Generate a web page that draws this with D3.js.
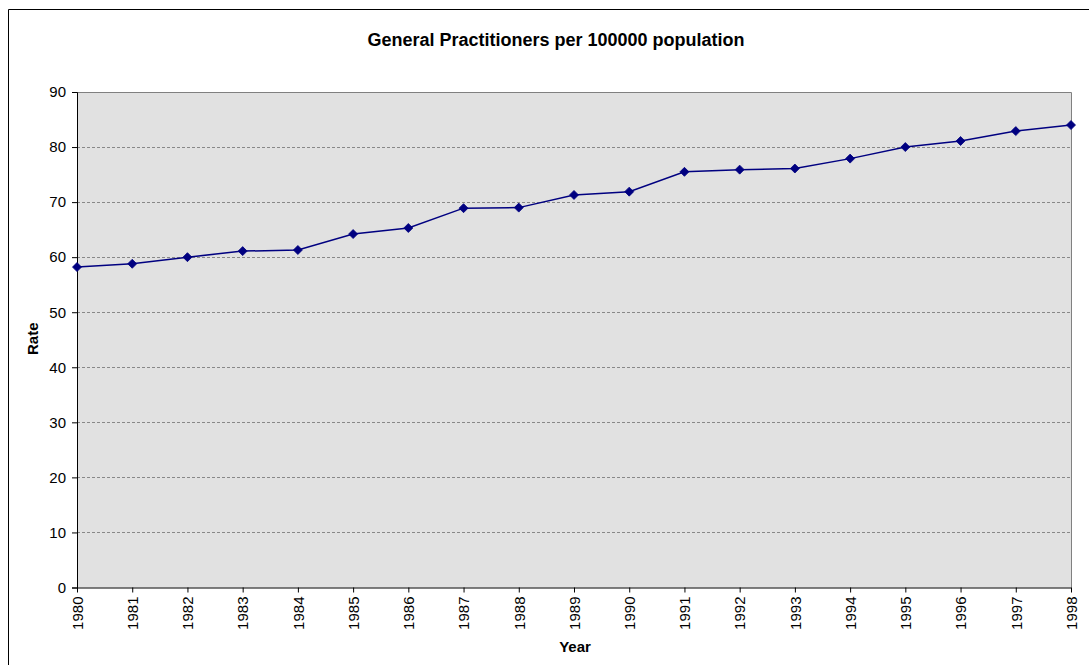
<!DOCTYPE html>
<html>
<head>
<meta charset="utf-8">
<script src="https://cdn.jsdelivr.net/npm/d3@7"></script>
<style>
  html, body { margin: 0; padding: 0; background: #fff; }
  svg { display: block; font-family: Arial, "Liberation Sans", sans-serif; }
</style>
</head>
<body>
<svg id="chart" width="1089" height="665"></svg>
<script>
// General practitioners per 100 000 population, 1980–1998
const years = [1980, 1981, 1982, 1983, 1984, 1985, 1986, 1987, 1988, 1989,
               1990, 1991, 1992, 1993, 1994, 1995, 1996, 1997, 1998];
const rates = [58.2, 58.8, 60.0, 61.1, 61.3, 64.2, 65.3, 68.9, 69.0, 71.3,
               71.9, 75.5, 75.9, 76.1, 77.9, 80.0, 81.1, 82.9, 84.0];
const yTicks = [0, 10, 20, 30, 40, 50, 60, 70, 80, 90];

const svg = d3.select("#chart");
const plot = { left: 77, right: 1071, top: 92, bottom: 587.5 };
const FONT = "Arial, 'Liberation Sans', sans-serif";

// outer chart frame (open at right and bottom edges of the window)
svg.append("path")
  .attr("d", "M8.5,665 L8.5,9.5 L1089,9.5")
  .attr("fill", "none").attr("stroke", "#000").attr("stroke-width", 1);

const x = d3.scalePoint().domain(years).range([plot.left, plot.right]);
const y = d3.scaleLinear().domain([0, 90]).range([plot.bottom, plot.top]);

// plot background
svg.append("rect")
  .attr("x", plot.left).attr("y", plot.top)
  .attr("width", plot.right - plot.left).attr("height", plot.bottom - plot.top)
  .attr("fill", "#e1e1e1");

// horizontal gridlines
svg.append("g").selectAll("line")
  .data(yTicks.filter(d => d > 0 && d < 90))
  .join("line")
  .attr("x1", plot.left).attr("x2", plot.right)
  .attr("y1", d => Math.round(y(d)) + 0.5).attr("y2", d => Math.round(y(d)) + 0.5)
  .attr("stroke", "#888").attr("stroke-width", 1).attr("stroke-dasharray", "3,2");

// plot border (top and right)
svg.append("path")
  .attr("d", `M${plot.left},${plot.top + 0.5} L${plot.right + 0.5},${plot.top + 0.5} L${plot.right + 0.5},${plot.bottom}`)
  .attr("fill", "none").attr("stroke", "#808080").attr("stroke-width", 1);

// y axis
const yAxis = svg.append("g")
  .attr("transform", `translate(${plot.left},0)`)
  .call(d3.axisLeft(y).tickValues(yTicks).tickSize(5).tickPadding(6).tickFormat(d3.format("d")));
yAxis.select(".domain").attr("stroke", "#000");
yAxis.selectAll(".tick line").attr("stroke", "#000");
yAxis.selectAll("text").attr("font-size", 15).attr("fill", "#000").attr("font-family", FONT);

// x axis
const xAxis = svg.append("g")
  .attr("transform", `translate(0,${plot.bottom})`)
  .call(d3.axisBottom(x).tickSize(5).tickSizeOuter(0));
xAxis.select(".domain").attr("stroke", "#000");
xAxis.selectAll(".tick line").attr("stroke", "#000");
xAxis.selectAll("text")
  .attr("font-size", 15).attr("fill", "#000").attr("font-family", FONT)
  .attr("transform", "rotate(-90)")
  .attr("text-anchor", "end")
  .attr("x", -9).attr("y", 0).attr("dy", "0.35em");

// series line
const pts = years.map((yr, i) => [yr, rates[i]]);
svg.append("path")
  .datum(pts)
  .attr("fill", "none").attr("stroke", "#000080").attr("stroke-width", 1.5)
  .attr("d", d3.line().x(d => x(d[0])).y(d => y(d[1])));

// diamond markers
svg.append("g").selectAll("path")
  .data(pts)
  .join("path")
  .attr("transform", d => `translate(${x(d[0])},${y(d[1])})`)
  .attr("d", "M0,-4.5 L4.5,0 L0,4.5 L-4.5,0 Z")
  .attr("fill", "#000080").attr("stroke", "#000080").attr("stroke-width", 0.8);

// titles
svg.append("text")
  .attr("x", 556).attr("y", 46).attr("text-anchor", "middle")
  .attr("font-size", 18).attr("font-weight", "bold")
  .text("General Practitioners per 100000 population");

svg.append("text")
  .attr("transform", `translate(38,${(plot.top + plot.bottom) / 2 - 1}) rotate(-90)`)
  .attr("text-anchor", "middle")
  .attr("font-size", 15).attr("font-weight", "bold")
  .text("Rate");

svg.append("text")
  .attr("x", 575).attr("y", 652).attr("text-anchor", "middle")
  .attr("font-size", 15).attr("font-weight", "bold")
  .text("Year");
</script>
</body>
</html>
